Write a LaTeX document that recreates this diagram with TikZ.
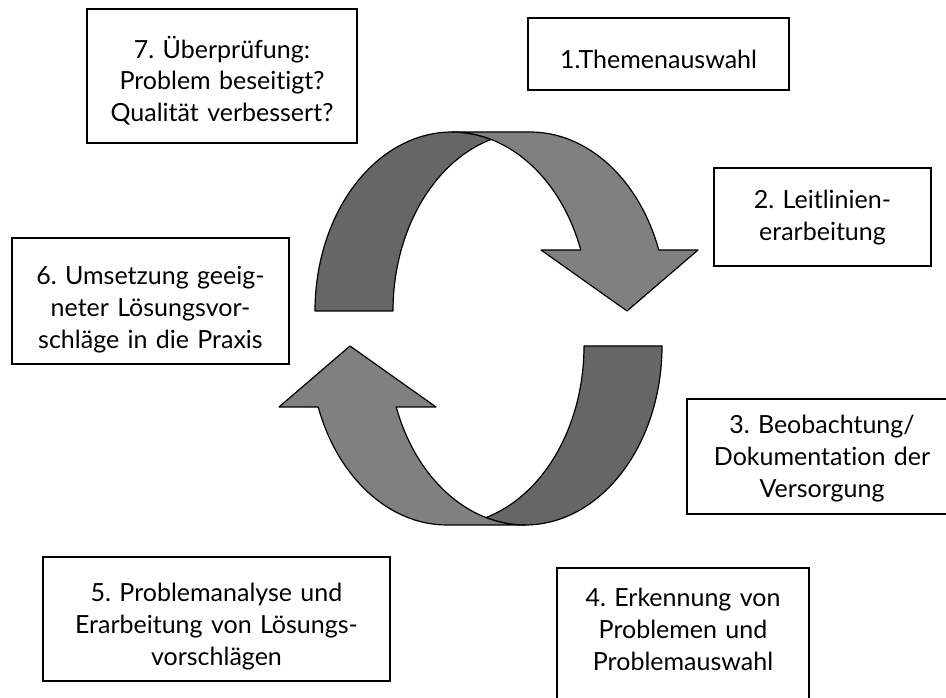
\documentclass[tikz,border=0pt]{standalone}
\usepackage{fontspec}
\newfontfamily\boxfont[Ligatures=NoCommon]{Lato}
\definecolor{bandDark}{HTML}{666666}
\definecolor{bandLight}{HTML}{808080}
\frenchspacing

\begin{document}
\begin{tikzpicture}[x=1pt, y=1pt,
    box/.style={draw, line width=1.5pt, inner sep=0pt, outer sep=0pt, anchor=north west,
      align=center, font=\boxfont\fontsize{25}{31.7}\selectfont},
    band/.style={draw, line width=1.2pt, line join=round}]
  \useasboundingbox (0,0) rectangle (946,698);
  \clip (0,0) rectangle (946,698);

  % upper arrow
  \begin{scope}
    \filldraw[band, fill=bandDark] (315,387)
      arc[start angle=180, end angle=73.46, x radius=137, y radius=179]
      arc[start angle=106.54, end angle=180, x radius=137, y radius=179] -- cycle;
    \filldraw[band, fill=bandLight] (452,566) -- (530,566)
      arc[start angle=90, end angle=19.93, x radius=137, y radius=179]
      -- (698,448) -- (627,387) -- (541,448) -- (580.8,448)
      arc[start angle=19.93, end angle=90, x radius=137, y radius=179] -- cycle;
  \end{scope}

  % lower arrow
  \begin{scope}[rotate around={180:(488.5,369.5)}]
    \filldraw[band, fill=bandDark] (315,387)
      arc[start angle=180, end angle=73.46, x radius=137, y radius=179]
      arc[start angle=106.54, end angle=180, x radius=137, y radius=179] -- cycle;
    \filldraw[band, fill=bandLight] (452,566) -- (530,566)
      arc[start angle=90, end angle=19.93, x radius=137, y radius=179]
      -- (698,448) -- (627,387) -- (541,448) -- (580.8,448)
      arc[start angle=19.93, end angle=90, x radius=137, y radius=179] -- cycle;
  \end{scope}

  % steps
  \node[box, minimum width=261pt, text width=255pt, text height=51pt, text depth=21pt]
    (auswahl) at (528,680) {1.Themenauswahl};
  \node[box, minimum width=217pt, text width=211pt, text height=40.5pt, text depth=57.5pt]
    (leitlinien) at (714,530) {2. Leitlinien-\\erarbeitung};
  \node[box, minimum width=270pt, text width=264pt, text height=35pt, text depth=80pt]
    (beobachtung) at (687,299) {3. Beobachtung/\\Dokumentation der\\Versorgung};
  \node[box, minimum width=252pt, text width=246pt, text height=39pt, text depth=105pt]
    (erkennung) at (557,130) {4. Erkennung von\\Problemen und\\Problemauswahl};
  \node[box, minimum width=347pt, text width=341pt, text height=44.7pt, text depth=79.3pt]
    (analyse) at (43,141) {5. Problemanalyse und\\Erarbeitung von Lösungs-\\vorschlägen};
  \node[box, minimum width=277pt, text width=271pt, text height=47pt, text depth=79pt]
    (umsetzung) at (12,460) {6. Umsetzung geeig-\\neter Lösungsvor-\\schläge in die Praxis};
  \node[box, minimum width=270pt, text width=264pt, text height=49.3pt, text depth=84.7pt]
    (pruefung) at (87,689) {7. Überprüfung:\\Problem beseitigt?\\Qualität verbessert?};
\end{tikzpicture}
\end{document}
